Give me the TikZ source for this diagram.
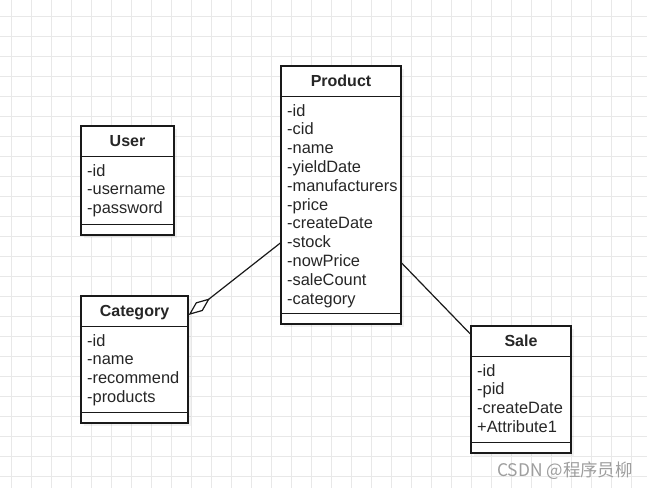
\documentclass[tikz,border=0pt]{standalone}
\usepackage{fontspec}
\setmainfont{Liberation Sans}
\newfontfamily\cjkfont{Noto Sans CJK SC}
\usetikzlibrary{arrows.meta,shadows}

\begin{document}
\begin{tikzpicture}[x=1pt, y=-1pt,
  gridline/.style={draw=black!9, line width=0.8pt},
  classbox/.style={draw=black!90, line width=1.3pt, fill=white, inner sep=0pt,
    drop shadow={shadow xshift=3pt, shadow yshift=-3pt, fill=black, opacity=0.05}},
  divider/.style={draw=black!90, line width=1.3pt},
  classtitle/.style={anchor=base, inner sep=0pt, text=black!85,
    font=\fontsize{16}{19}\selectfont\bfseries},
  attr/.style={anchor=base west, inner sep=0pt, text=black!85,
    font=\fontsize{16.4}{19}\selectfont},
  link/.style={draw=black!90, line width=1.2pt}]

\useasboundingbox[fill=white] (0,0) rectangle (647,488);

% grid
\foreach \x in {11,31,...,631}
  \draw[gridline] (\x,0) -- (\x,488);
\foreach \y in {16,36,...,476}
  \draw[gridline] (0,\y) -- (647,\y);

% classes
\node[classbox, minimum width=120pt, minimum height=258pt] (product) at (341,195) {};
\node[classbox, minimum width=93pt, minimum height=109pt] (user) at (127.5,180.5) {};
\node[classbox, minimum width=107pt, minimum height=127pt] (category) at (134.5,359.5) {};
\node[classbox, minimum width=100pt, minimum height=127pt] (sale) at (521,389.5) {};

\foreach \c in {product,user,category,sale} {
  \draw[divider] ([yshift=-31pt]\c.north west) -- ([yshift=-31pt]\c.north east);
  \draw[divider] ([yshift=11pt]\c.south west) -- ([yshift=11pt]\c.south east);
}

\node[classtitle] (product-title) at ([yshift=-21pt]product.north) {Product};
\node[classtitle] (user-title) at ([yshift=-21pt]user.north) {User};
\node[classtitle] (category-title) at ([yshift=-21pt]category.north) {Category};
\node[classtitle] (sale-title) at ([yshift=-21pt]sale.north) {Sale};

\foreach \a [count=\i] in {-id,-cid,-name,-yieldDate,-manufacturers,-price,
    -createDate,-stock,-nowPrice,-saleCount,-category}
  \node[attr] (product-\i) at (287,{116+18.8*(\i-1)}) {\a};

\foreach \a [count=\i] in {-id,-username,-password}
  \node[attr] (user-\i) at (87,{176+18.8*(\i-1)}) {\a};

\foreach \a [count=\i] in {-id,-name,-recommend,-products}
  \node[attr] (category-\i) at (87,{346+18.8*(\i-1)}) {\a};

\foreach \a [count=\i] in {-id,-pid,-createDate,+Attribute1}
  \node[attr] (sale-\i) at (477,{376+18.8*(\i-1)}) {\a};

% relations
\draw[link, {Diamond[open, length=27pt, width=11pt]}-]
  ([yshift=44.5pt]category.east) -- ([yshift=-48pt]product.west);
\draw[link] ([yshift=-68pt]product.east) -- ([yshift=55.5pt]sale.west);

\node[anchor=base west, inner sep=0pt, text=black!38,
  font=\fontsize{17.4}{20}\selectfont\cjkfont] (watermark) at (497,476) {CSDN @程序员柳};

\end{tikzpicture}
\end{document}
